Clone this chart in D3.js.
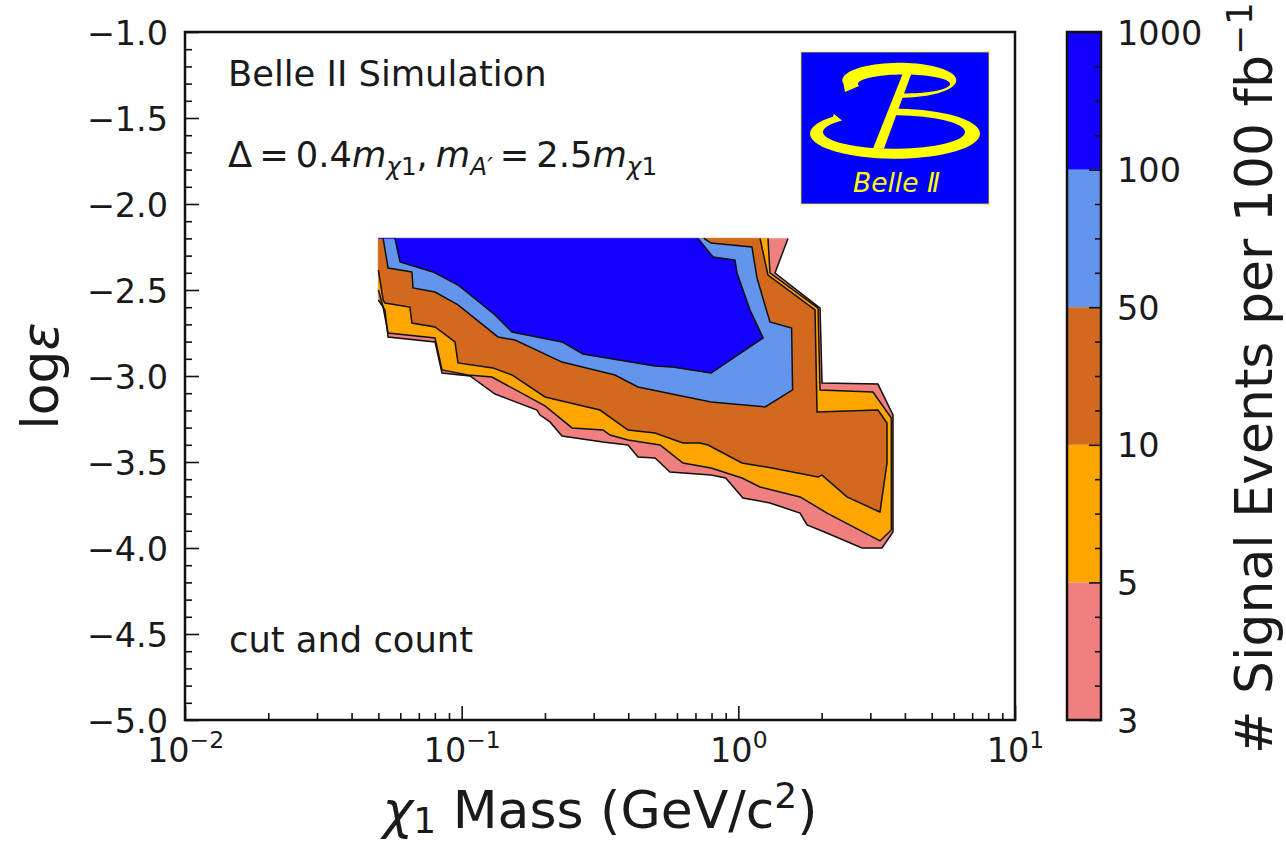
<!DOCTYPE html>
<html>
<head>
<meta charset="utf-8">
<script src="https://cdn.jsdelivr.net/npm/d3@7"></script>
<style>
  body { margin: 0; background: #fff; }
  text { font-family: "DejaVu Sans", sans-serif; fill: #1a1a1a; }
</style>
</head>
<body>
<svg id="chart" width="1286" height="842"></svg>
<script>
// ---- data -------------------------------------------------------------
// contour levels (# signal events per 100 fb^-1) and their fill colours
const levels = [3, 5, 10, 50, 100, 1000];
const levelColors = ["#f08080", "#ffa500", "#d2691e", "#6495ed", "#1400ff"];

// axis ranges and ticks
const massRange = [0.01, 10];
const logEpsRange = [-5, -1];
const yMajorTicks = [-5, -4.5, -4, -3.5, -3, -2.5, -2, -1.5, -1];
const xDecades = [0.01, 0.1, 1, 10];
const xExponents = ["\u22122", "\u22121", "0", "1"];

// edge of the simulated grid (lowest mass, largest log eps)
const gridMassMin = 0.05;
const gridLogEpsMax = -2.2;

// iso-event contours [mass (GeV/c^2), log eps]; each outlines the region with
// at least that many events and ends on the grid edge
const contour3 = [
  [0.05, -2.558], [0.0528, -2.616], [0.0542, -2.773], [0.0801, -2.802], [0.0849, -2.983],
  [0.1072, -3.0], [0.132, -3.105], [0.1872, -3.198], [0.1919, -3.227], [0.2086, -3.267],
  [0.2305, -3.349], [0.3242, -3.384], [0.3993, -3.401], [0.4337, -3.471], [0.4998, -3.477],
  [0.5662, -3.558], [0.7967, -3.576], [0.9, -3.593], [1.039, -3.709], [1.301, -3.738],
  [1.671, -3.797], [1.772, -3.866], [2.049, -3.907], [2.798, -4.0], [3.305, -4.0],
  [3.622, -3.907], [3.622, -3.227], [3.196, -3.047], [2.007, -3.041], [1.974, -2.605],
  [1.357, -2.401], [1.512, -2.2]
];
const contour5 = [
  [0.05, -2.5], [0.052, -2.599], [0.0542, -2.75], [0.0801, -2.779], [0.0849, -2.965],
  [0.1054, -2.994], [0.1287, -3.006], [0.2001, -3.174], [0.2505, -3.302], [0.3242, -3.314],
  [0.3437, -3.343], [0.3993, -3.372], [0.5212, -3.401], [0.631, -3.506], [0.7967, -3.535],
  [1.031, -3.593], [1.198, -3.645], [1.671, -3.703], [2.093, -3.797], [3.251, -3.959],
  [3.573, -3.895], [3.573, -3.244], [3.067, -3.093], [1.974, -3.081], [1.941, -2.605],
  [1.301, -2.401], [1.28, -2.2]
];
const contour10 = [
  [0.05, -2.384], [0.052, -2.558], [0.0528, -2.576], [0.065, -2.599], [0.0661, -2.692],
  [0.0801, -2.715], [0.0946, -2.802], [0.097, -2.924], [0.1297, -2.953], [0.152, -2.994],
  [0.2001, -3.122], [0.3162, -3.198], [0.3993, -3.314], [0.4998, -3.331], [0.631, -3.39],
  [0.7266, -3.39], [0.7772, -3.401], [1.031, -3.506], [1.323, -3.535], [1.941, -3.587],
  [2.007, -3.576], [2.47, -3.703], [3.251, -3.791], [3.446, -3.506], [3.446, -3.273],
  [3.196, -3.198], [1.925, -3.209], [1.893, -2.616], [1.28, -2.413], [1.198, -2.2]
];
const contour50 = [
  [0.052, -2.2], [0.0542, -2.372], [0.0661, -2.395], [0.0667, -2.488], [0.0801, -2.512],
  [0.097, -2.587], [0.1353, -2.773], [0.1559, -2.791], [0.2305, -2.919], [0.3582, -2.994],
  [0.4337, -3.064], [0.7967, -3.151], [1.25, -3.18], [1.571, -3.081], [1.558, -2.721],
  [1.301, -2.686], [1.168, -2.43], [1.12, -2.25], [0.7967, -2.227], [0.7516, -2.2]
];
const contour100 = [
  [0.0574, -2.2], [0.0599, -2.337], [0.0788, -2.395], [0.097, -2.471], [0.132, -2.645],
  [0.152, -2.744], [0.2305, -2.802], [0.2745, -2.872], [0.430, -2.924], [0.500, -2.942],
  [0.579, -2.948], [0.797, -2.983], [1.229, -2.779], [1.102, -2.616], [0.989, -2.401],
  [0.9725, -2.326], [0.810, -2.308], [0.7146, -2.2]
];
const contours = [contour3, contour5, contour10, contour50, contour100];

// ---- layout -----------------------------------------------------------
const svg = d3.select("#chart");
const plot = { left: 185, right: 1015, top: 32, bottom: 720 };
const cbar = { left: 1067, right: 1101, top: 32, bottom: 720 };
const tickFont = 33.5;

const x = d3.scaleLog().domain(massRange).range([plot.left, plot.right]);
const y = d3.scaleLinear().domain(logEpsRange).range([plot.bottom, plot.top]);

svg.append("defs").append("clipPath").attr("id", "plot-clip")
  .append("rect")
  .attr("x", plot.left).attr("y", plot.top)
  .attr("width", plot.right - plot.left).attr("height", plot.bottom - plot.top);

// ---- filled contours --------------------------------------------------
const line = d3.line().x(d => x(d[0])).y(d => y(d[1]));
const regionPath = pts => line(pts.concat([[gridMassMin, gridLogEpsMax]])) + "Z";

const contourLayer = svg.append("g").attr("clip-path", "url(#plot-clip)");
contourLayer.selectAll("path.fill")
  .data(contours)
  .join("path")
  .attr("class", "fill")
  .attr("d", regionPath)
  .attr("fill", (d, i) => levelColors[i])
  .attr("stroke", (d, i) => levelColors[i])
  .attr("stroke-width", 0.6);

contourLayer.selectAll("path.iso")
  .data(contours)
  .join("path")
  .attr("class", "iso")
  .attr("d", line)
  .attr("fill", "none")
  .attr("stroke", "#111")
  .attr("stroke-width", 1.5)
  .attr("stroke-linejoin", "miter");

// ---- axes -------------------------------------------------------------
const minorY = d3.range(-5, -0.95, 0.1).map(v => +v.toFixed(1)).filter(v => !yMajorTicks.includes(v));
const minorX = [];
xDecades.slice(0, -1).forEach(d => { for (let k = 2; k <= 9; k++) minorX.push(d * k); });

const yAxis = svg.append("g")
  .attr("transform", `translate(${plot.left},0)`)
  .call(d3.axisLeft(y).tickValues(yMajorTicks).tickSize(-14).tickPadding(17)
    .tickFormat(d => d3.format(".1f")(d).replace("-", "\u2212")));
svg.append("g")
  .attr("transform", `translate(${plot.left},0)`)
  .call(d3.axisLeft(y).tickValues(minorY).tickSize(-7).tickFormat(""));

const xAxis = svg.append("g")
  .attr("transform", `translate(0,${plot.bottom})`)
  .call(d3.axisBottom(x).tickValues(xDecades).tickSize(-14).tickFormat(""));
svg.append("g")
  .attr("transform", `translate(0,${plot.bottom})`)
  .call(d3.axisBottom(x).tickValues(minorX).tickSize(-7).tickFormat(""));

svg.selectAll(".domain").remove();
svg.selectAll(".tick line").attr("stroke", "#111").attr("stroke-width", 1.6);

yAxis.selectAll(".tick text")
  .attr("font-size", tickFont).attr("font-family", "DejaVu Sans")
  .attr("fill", "#1a1a1a").attr("dy", "0.36em");

xAxis.selectAll(".tick text").each(function (d, i) {
  const t = d3.select(this)
    .attr("font-size", tickFont).attr("font-family", "DejaVu Sans")
    .attr("fill", "#1a1a1a").attr("y", 42).attr("dy", null)
    .attr("text-anchor", "middle");
  t.append("tspan").text("10");
  t.append("tspan").attr("font-size", tickFont * 0.7).attr("dy", -14).text(xExponents[i]);
});

// frame
svg.append("rect")
  .attr("x", plot.left).attr("y", plot.top)
  .attr("width", plot.right - plot.left).attr("height", plot.bottom - plot.top)
  .attr("fill", "none").attr("stroke", "#111").attr("stroke-width", 2.5);

// axis titles
const xTitle = svg.append("text")
  .attr("x", (plot.left + plot.right) / 2).attr("y", 828)
  .attr("text-anchor", "middle").attr("font-size", 52);
xTitle.append("tspan").attr("font-style", "italic").text("\u03c7");
xTitle.append("tspan").attr("font-size", 36).attr("dy", 5).text("1");
xTitle.append("tspan").attr("dy", -5).text(" Mass (GeV/c");
xTitle.append("tspan").attr("font-size", 36).attr("dy", -20).text("2");
xTitle.append("tspan").attr("dy", 20).text(")");

const yTitle = svg.append("text")
  .attr("transform", `translate(58,${(plot.top + plot.bottom) / 2}) rotate(-90)`)
  .attr("text-anchor", "middle").attr("font-size", 52);
yTitle.append("tspan").text("log");
yTitle.append("tspan").attr("font-style", "italic").text("\u03b5");

// ---- annotations ------------------------------------------------------
const noteFont = 35.3;
svg.append("text").attr("x", 228).attr("y", 86).attr("font-size", noteFont)
  .text("Belle II Simulation");

const sub = 0.7 * noteFont;
const formula = svg.append("text").attr("x", 228).attr("y", 167).attr("font-size", noteFont);
formula.append("tspan").text("\u0394");
formula.append("tspan").attr("dx", 7).text("=");
formula.append("tspan").attr("dx", 7).text("0.4");
formula.append("tspan").attr("font-style", "italic").text("m");
formula.append("tspan").attr("font-size", sub).attr("dy", 8).attr("font-style", "italic").text("\u03c7");
formula.append("tspan").attr("font-size", sub).text("1");
formula.append("tspan").attr("dy", -8).text(",");
formula.append("tspan").attr("dx", 8).attr("font-style", "italic").text("m");
formula.append("tspan").attr("font-size", sub).attr("dy", 8).attr("font-style", "italic").text("A\u2032");
formula.append("tspan").attr("dy", -8).attr("dx", 7).text("=");
formula.append("tspan").attr("dx", 7).text("2.5");
formula.append("tspan").attr("font-style", "italic").text("m");
formula.append("tspan").attr("font-size", sub).attr("dy", 8).attr("font-style", "italic").text("\u03c7");
formula.append("tspan").attr("font-size", sub).text("1");

svg.append("text").attr("x", 229).attr("y", 652).attr("font-size", noteFont)
  .text("cut and count");

// ---- Belle II logo ----------------------------------------------------
const logo = svg.append("g").attr("transform", "translate(801,52)");
logo.append("rect").attr("width", 188).attr("height", 152)
  .attr("fill", "#0000ff").attr("stroke", "#e8e800").attr("stroke-width", 0.8);

function ring(o, inner, t0, t1, tip, tipAtEnd) {
  const rad = Math.PI / 180, pts = [];
  const n = 60;
  for (let k = 0; k <= n; k++) {
    const t = (t0 + (t1 - t0) * k / n) * rad;
    pts.push([o.cx + o.rx * Math.cos(t), o.cy + o.ry * Math.sin(t)]);
  }
  if (tipAtEnd) pts.push(tip);
  for (let k = n; k >= 0; k--) {
    const t = (t0 + (t1 - t0) * k / n) * rad;
    pts.push([inner.cx + inner.rx * Math.cos(t), inner.cy + inner.ry * Math.sin(t)]);
  }
  if (!tipAtEnd) pts.push(tip);
  return d3.line()(pts) + "Z";
}
logo.append("path").attr("fill", "#ffff00")
  .attr("d", ring({ cx: 98.3, cy: 28.3, rx: 57, ry: 17.5 },
                  { cx: 103, cy: 32, rx: 46, ry: 9.5 }, 168, 455, [44, 40], false));
logo.append("path").attr("fill", "#ffff00")
  .attr("d", ring({ cx: 94, cy: 81.7, rx: 85, ry: 25 },
                  { cx: 93, cy: 80, rx: 71, ry: 16.7 }, -92, 223, [33, 62], true));
logo.append("path").attr("fill", "#ffff00")
  .attr("d", d3.line()([[103, 18.5], [111.5, 18.5], [83, 96.5], [72, 96.5]]) + "Z");
logo.append("text").attr("x", 52).attr("y", 140)
  .attr("font-family", "Liberation Sans, Arial, sans-serif")
  .attr("font-style", "italic").attr("font-size", 26.5)
  .style("fill", "#ffff00").text("Belle \u2161");

// ---- colour bar -------------------------------------------------------
const cbIndex = d3.scaleLinear().domain([0, levels.length - 1]).range([cbar.bottom, cbar.top]);
svg.append("g").selectAll("rect")
  .data(levelColors)
  .join("rect")
  .attr("x", cbar.left).attr("width", cbar.right - cbar.left)
  .attr("y", (d, i) => cbIndex(i + 1))
  .attr("height", (d, i) => cbIndex(i) - cbIndex(i + 1))
  .attr("fill", d => d);

const cbMinor = [];
d3.range(levels.length - 1).forEach(i => [0.25, 0.5, 0.75].forEach(f => cbMinor.push(i + f)));

const cbAxis = svg.append("g")
  .attr("transform", `translate(${cbar.right},0)`)
  .call(d3.axisRight(cbIndex).tickValues(d3.range(levels.length)).tickSize(-12).tickPadding(16)
    .tickFormat(i => levels[i]));
svg.append("g")
  .attr("transform", `translate(${cbar.right},0)`)
  .call(d3.axisRight(cbIndex).tickValues(cbMinor).tickSize(-6).tickFormat(""));
svg.selectAll(".domain").remove();
svg.selectAll(".tick line").attr("stroke", "#111").attr("stroke-width", 1.6);
cbAxis.selectAll(".tick text")
  .attr("font-size", tickFont).attr("font-family", "DejaVu Sans")
  .attr("fill", "#1a1a1a").attr("dy", "0.36em");

svg.append("rect")
  .attr("x", cbar.left).attr("y", cbar.top)
  .attr("width", cbar.right - cbar.left).attr("height", cbar.bottom - cbar.top)
  .attr("fill", "none").attr("stroke", "#111").attr("stroke-width", 2.5);

const cbTitle = svg.append("text")
  .attr("transform", `translate(1272,${(cbar.top + cbar.bottom) / 2 + 2}) rotate(-90)`)
  .attr("text-anchor", "middle").attr("font-size", 52);
cbTitle.append("tspan").text("# Signal Events per 100 fb");
cbTitle.append("tspan").attr("font-size", 36).attr("dy", -20).text("\u22121");
</script>
</body>
</html>
